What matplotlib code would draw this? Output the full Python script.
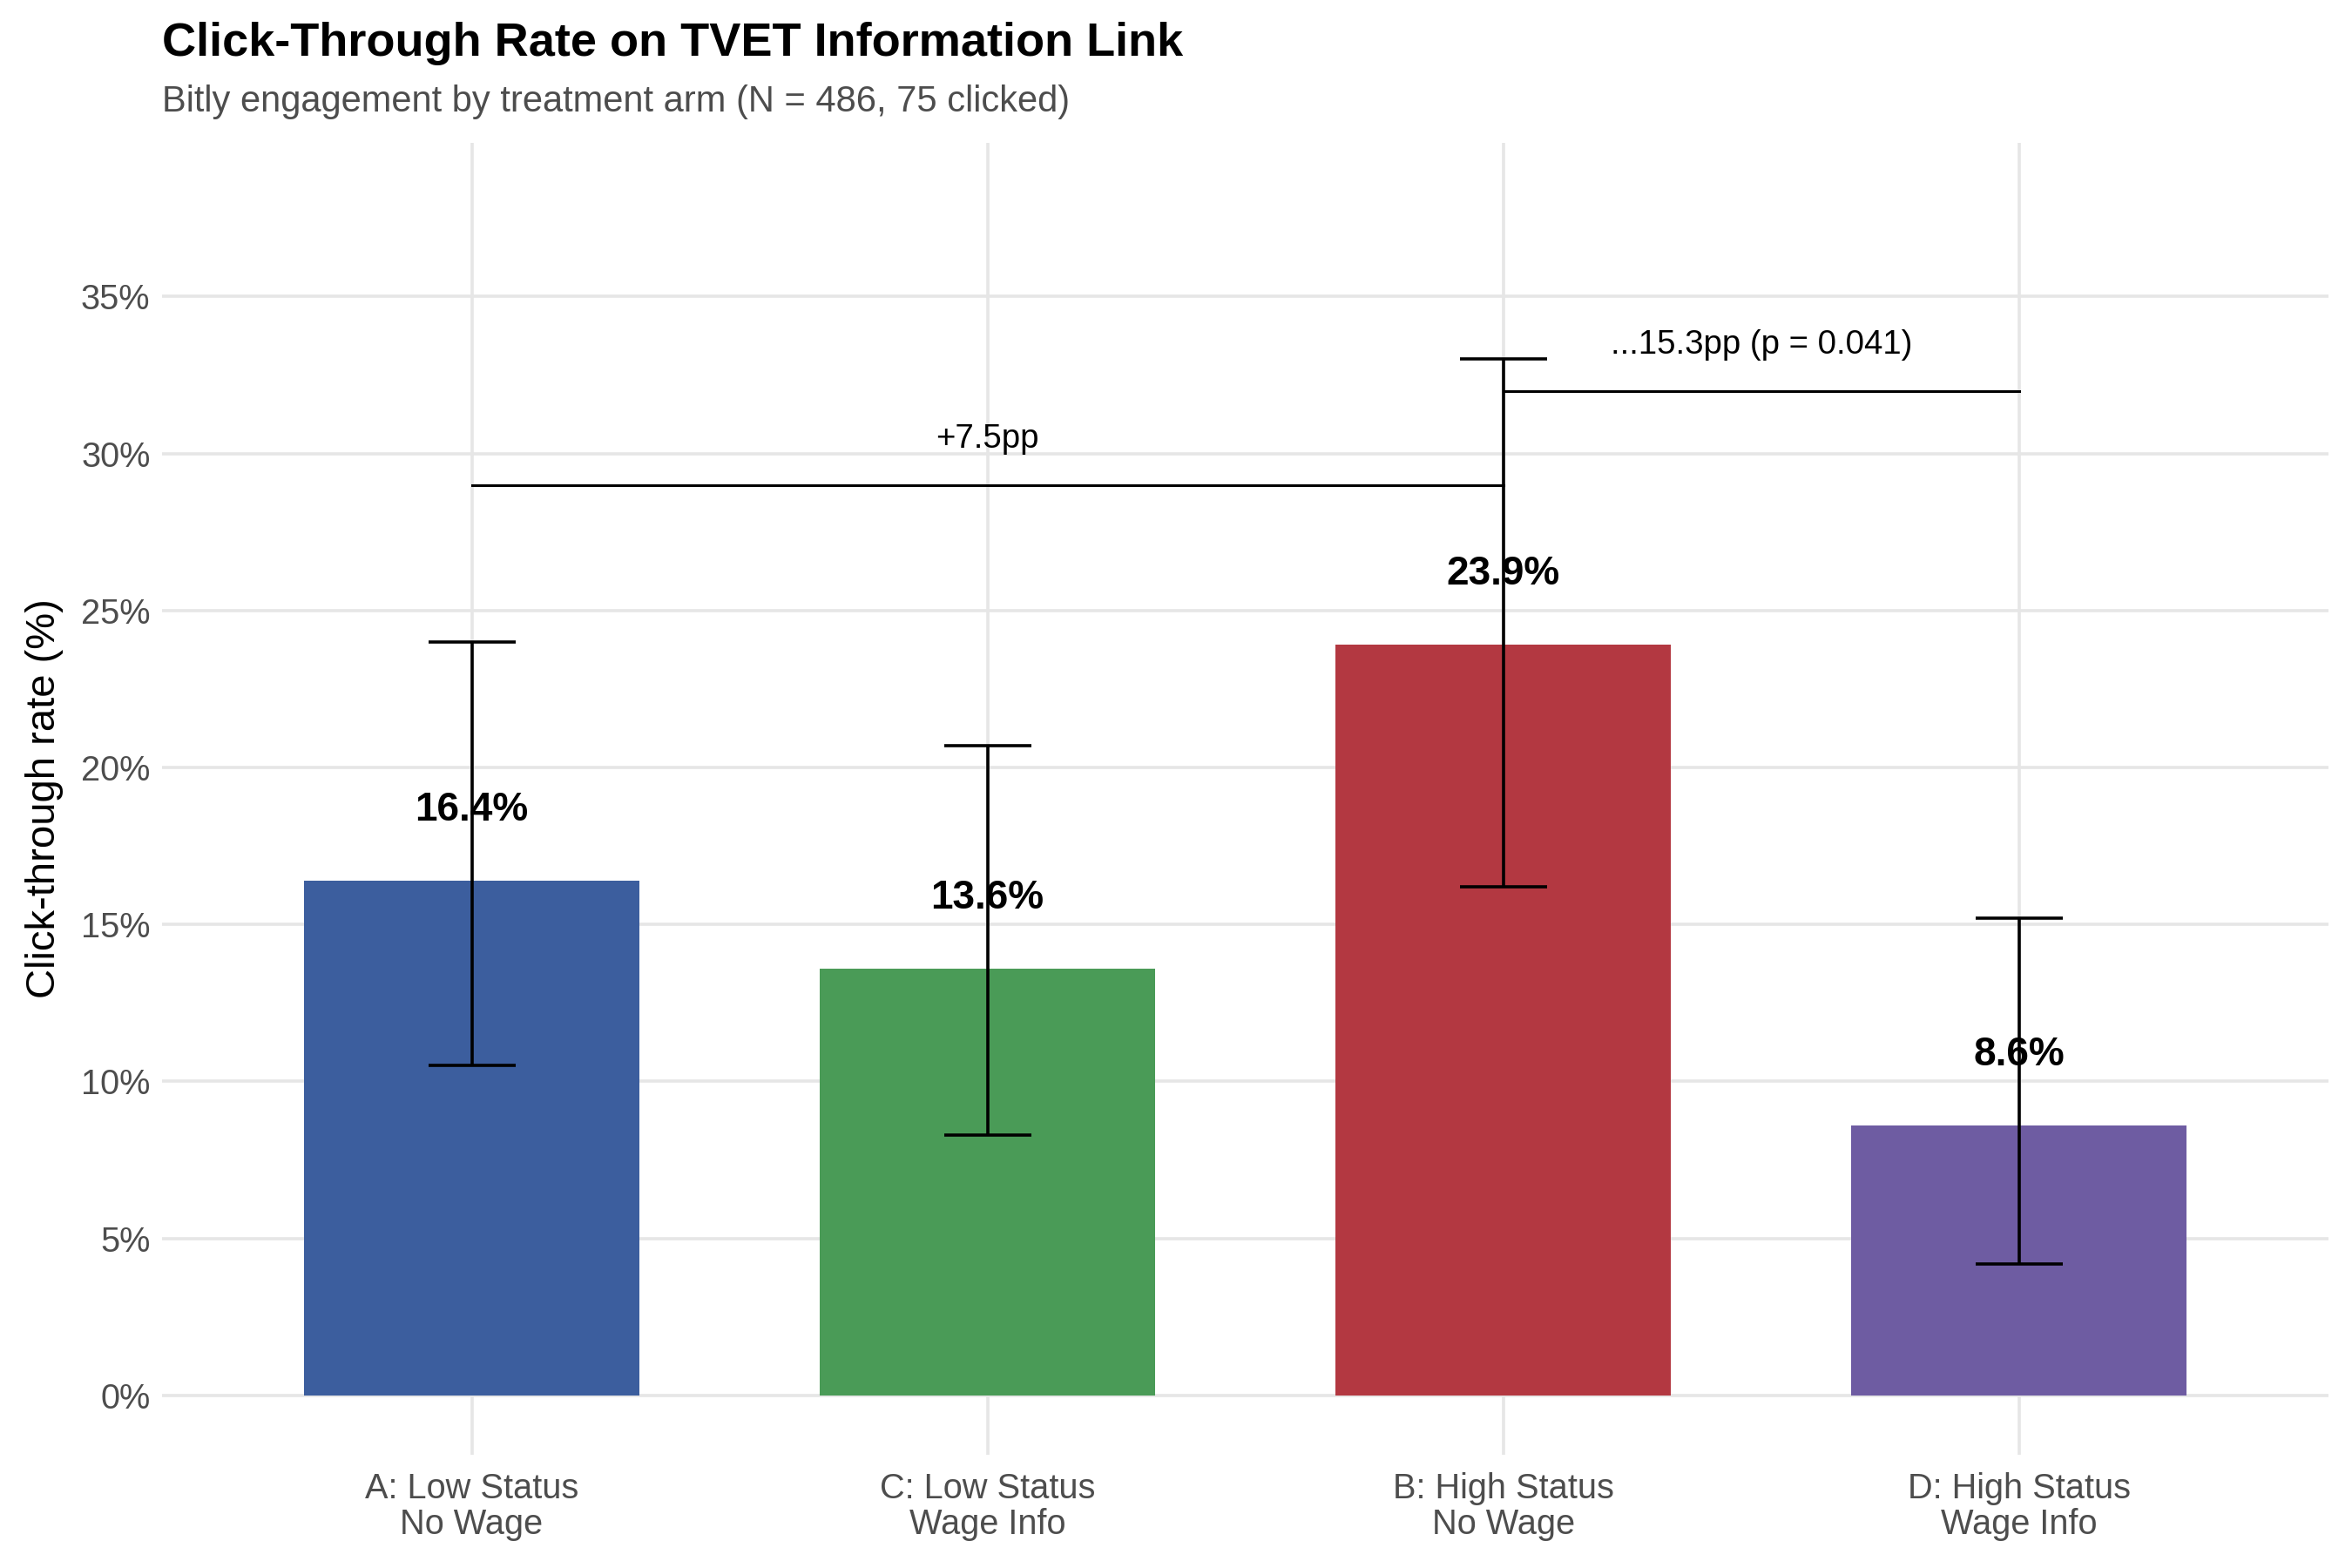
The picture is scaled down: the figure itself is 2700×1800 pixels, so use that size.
import numpy as np
import matplotlib.pyplot as plt

plt.rcParams['font.family'] = ['Liberation Sans', 'DejaVu Sans']

# data
arms = ["A: Low Status\nNo Wage", "C: Low Status\nWage Info",
        "B: High Status\nNo Wage", "D: High Status\nWage Info"]
ctr = [16.4, 13.6, 23.9, 8.6]
ci_low = [10.5, 8.3, 16.2, 4.2]
ci_high = [24.0, 20.7, 33.0, 15.2]
bar_colors = ["#3C5E9E", "#4A9B57", "#B33841", "#6E5CA2"]

# comparison brackets: (from arm, to arm, height, label)
comparisons = [(0, 2, 29.0, "+7.5pp"),
               (2, 3, 32.0, "...15.3pp (p = 0.041)")]


def make_plot():
    fig = plt.figure(figsize=(13.5, 9), dpi=200)
    ax = fig.add_axes([0.069, 0.072, 0.921, 0.837])

    x = np.arange(len(arms))
    ax.bar(x, ctr, width=0.65, color=bar_colors, zorder=2)

    for xi, v in zip(x, ctr):
        ax.text(xi, v + 2.25, f"{v:.1f}%", ha="center", va="center",
                fontsize=16.5, fontweight="bold", color="black", zorder=3)

    err = [np.array(ctr) - np.array(ci_low), np.array(ci_high) - np.array(ctr)]
    ax.errorbar(x, ctr, yerr=err, fmt="none", ecolor="black",
                elinewidth=1.3, capsize=18, capthick=1.3, zorder=4)

    for a, b, h, lab in comparisons:
        ax.plot([a, b], [h, h], color="black", lw=1.1, zorder=4)
        ax.text((a + b) / 2, h + 1.45, lab, ha="center", va="center",
                fontsize=13.8, color="black", zorder=4)

    # -> axes look like ggplot theme_minimal
    ax.set_xlim(-0.6, 3.6)
    ax.set_ylim(-1.9, 39.9)
    ax.set_xticks(x)
    ax.set_xticklabels(arms, fontsize=14.3, color="#4D4D4D", linespacing=1.1)
    ax.set_yticks(np.arange(0, 36, 5))
    ax.set_yticklabels([f"{t}%" for t in range(0, 36, 5)], fontsize=14.3, color="#4D4D4D")
    ax.tick_params(length=0, pad=5)
    ax.tick_params(axis="x", pad=7)
    ax.grid(True, color="#E6E6E6", lw=1.3, zorder=0)
    ax.set_axisbelow(True)
    for s in ax.spines.values():
        s.set_visible(False)
    ax.set_ylabel("Click-through rate (%)", fontsize=17, labelpad=7)

    fig.text(0.069, 0.972, "Click-Through Rate on TVET Information Link",
             fontsize=19.5, fontweight="bold", ha="left", va="center")
    fig.text(0.069, 0.935, "Bitly engagement by treatment arm (N = 486, 75 clicked)",
             fontsize=15, color="#4D4D4D", ha="left", va="center")

    fig.savefig("out.png", dpi=200, facecolor="white")


if __name__ == "__main__":
    make_plot()
